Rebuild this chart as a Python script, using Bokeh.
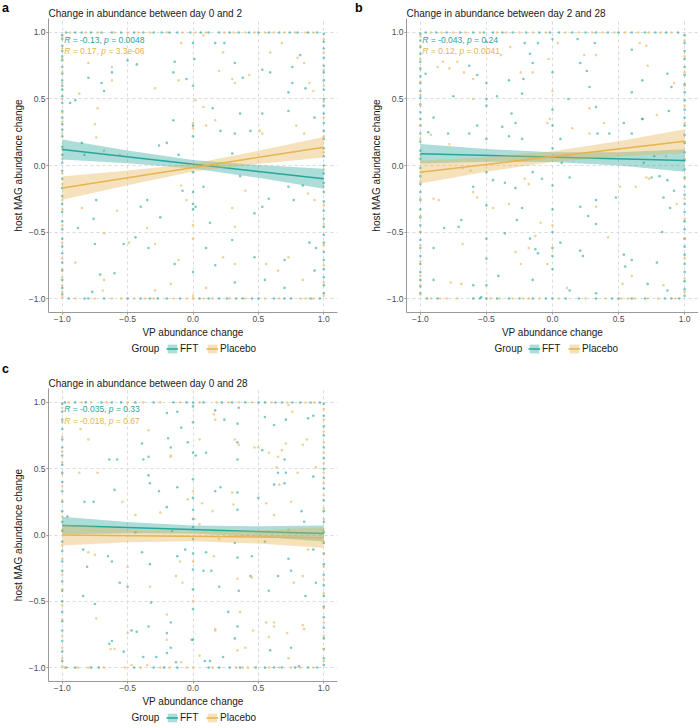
from bokeh.plotting import figure
from bokeh.models import (Range1d, FixedTicker, Label, Legend, LegendItem, CustomJSTickFormatter, Div)
from bokeh.layouts import column, row
from bokeh.embed import file_html
from bokeh.resources import INLINE

FONT = "Liberation Sans"
FFT_COL = "#26A69A"
PLC_COL = "#E6B450"
GROUPS = ["FFT", "Placebo"]
TICKS = [-1.0, -0.5, 0.0, 0.5, 1.0]
TICK_LABELS = ["\u22121.0", "\u22120.5", "0.0", "0.5", "1.0"]
FIT_X = [-1.0, 1.0]
BAND_X = [-1.0, -0.5, 0.0, 0.5, 1.0]

# ---------------- Panel a: day 0 -> 2 ----------------
a_title = "Change in abundance between day 0 and 2"
a_stats = [("-0.13", "0.0048"), ("0.17", "3.3e-06")]
a_fft_fit = [0.12, -0.10]
a_fft_lo = [0.045, 0.017, -0.022, -0.093, -0.175]
a_fft_hi = [0.195, 0.113, 0.042, 0.003, -0.025]
a_plc_fit = [-0.17, 0.138]
a_plc_lo = [-0.257, -0.148, -0.046, 0.011, 0.061]
a_plc_hi = [-0.083, -0.038, 0.014, 0.111, 0.215]
a_fft_pts = [(-0.50, 0.79), (-0.43, 0.76), (-0.80, 0.66), (-0.70, 0.62), (-0.68, 0.56), (-0.62, 0.70),
             (-0.14, 0.78), (-0.15, 0.70), (-0.05, 0.65), (0.01, 0.80), (0.17, 0.92), (0.24, 0.92),
             (0.32, 0.77), (0.38, 0.66), (0.53, 0.72), (0.59, 0.70), (0.76, 0.74), (0.82, 0.83),
             (0.76, 0.62), (0.86, 0.58), (0.73, 0.55), (0.93, 0.36), (-0.94, 0.47), (-0.90, 0.49),
             (0.15, 0.43), (0.53, 0.39), (-0.85, 0.17), (-0.83, 0.08), (-0.76, -0.40), (-0.75, -0.59),
             (-0.88, -0.47), (-0.71, -0.82), (-0.60, -0.81), (-0.40, -0.31), (-0.35, -0.26), (-0.34, -0.62),
             (-0.26, 0.15), (-0.20, 0.17), (-0.15, 0.34), (-0.11, 0.08), (-0.08, -0.19), (0.02, -0.31),
             (0.08, -0.16), (0.21, 0.26), (0.30, 0.09), (0.36, 0.39), (0.32, 0.24), (0.44, 0.26),
             (0.36, -0.08), (0.47, -0.36), (0.53, -0.31), (0.58, -0.25), (0.73, 0.41), (0.73, -0.16),
             (0.84, -0.15), (0.77, -0.26), (0.89, -0.58), (0.94, -0.62), (0.93, -0.79), (0.70, -0.71),
             (0.70, -0.92), (0.55, -0.86), (0.32, -0.88), (0.10, -0.62), (0.17, -0.75), (-0.14, -0.74),
             (-0.25, -0.39), (-0.53, -0.59), (-0.44, -0.54), (-0.77, -0.95), (0.13, -0.43), (0.30, -0.56),
             (0.47, -0.69), (-0.74, -0.26)]
a_plc_pts = [(-0.80, 0.77), (-0.62, 0.74), (-0.62, 0.64), (-0.73, 0.43), (-0.87, 0.54), (-0.29, 0.58),
             (-0.11, 0.64), (-0.09, 0.92), (0.08, 0.98), (0.23, 0.85), (0.30, 0.65), (0.32, 0.62),
             (0.43, 0.68), (0.59, 0.85), (0.68, 0.92), (0.80, 0.81), (0.85, 0.77), (0.92, 0.56),
             (0.89, 0.62), (0.02, 0.49), (0.20, 0.71), (-0.75, 0.31), (-0.74, 0.21), (-0.68, 0.11),
             (-0.56, 0.08), (-0.85, -0.32), (-0.58, -0.34), (-0.68, -0.51), (-0.49, -0.58), (-0.35, -0.47),
             (-0.29, -0.59), (-0.09, -0.15), (-0.05, -0.26), (0.10, 0.30), (0.17, 0.34), (0.30, -0.32),
             (0.32, -0.46), (0.40, -0.19), (0.51, 0.26), (0.53, 0.24), (0.79, 0.30), (0.85, 0.24),
             (0.88, -0.21), (0.93, -0.26), (0.73, -0.69), (0.65, -0.79), (0.56, -0.74), (0.84, -0.86),
             (0.32, -0.74), (0.23, -0.69), (0.10, -0.92), (-0.17, -0.89), (-0.11, -0.71), (-0.29, -0.94),
             (-0.68, -0.86), (-0.69, -0.94), (-0.90, -0.73), (0.08, 0.44)]
a_fft_left_y = [0.98, 0.95, 0.9, 0.86, 0.82, 0.79, 0.74, 0.69, 0.64, 0.6, 0.57, 0.52, 0.47, 0.41, 0.36, 0.31,
                0.27, 0.22, 0.14, 0.08, 0.02, -0.04, -0.1, -0.17, -0.23, -0.29, -0.35, -0.42, -0.48, -0.55,
                -0.61, -0.66, -0.73, -0.79, -0.86, -0.92, -0.97]
a_plc_left_y = [0.96, 0.88, 0.8, 0.7, 0.62, 0.5, 0.4, 0.33, 0.24, 0.12, 0.05, -0.06, -0.14, -0.26, -0.33,
                -0.45, -0.58, -0.7, -0.78, -0.84, -0.9, -0.95, -0.99]
a_fft_right_y = [0.99, 0.93, 0.88, 0.81, 0.75, 0.7, 0.64, 0.57, 0.5, 0.45, 0.39, 0.32, 0.26, 0.2, 0.13, 0.07,
                 0.0, -0.06, -0.13, -0.2, -0.27, -0.34, -0.4, -0.46, -0.52, -0.58, -0.65, -0.71, -0.78,
                 -0.84, -0.9, -0.96]
a_plc_right_y = [0.95, 0.85, 0.72, 0.6, 0.48, 0.36, 0.22, 0.1, -0.03, -0.16, -0.3, -0.44, -0.6, -0.75,
                 -0.88, -0.98]
a_fft_top_x = [-0.97, -0.9, -0.85, -0.78, -0.7, -0.62, -0.55, -0.45, -0.38, -0.3, -0.24, -0.18, -0.12,
               -0.02, 0.06, 0.12, 0.2, 0.28, 0.35, 0.43, 0.5, 0.58, 0.66, 0.74, 0.8, 0.88, 0.95]
a_plc_top_x = [-0.94, -0.82, -0.73, -0.6, -0.5, -0.42, -0.33, -0.2, -0.08, 0.02, 0.1, 0.24, 0.31, 0.4,
               0.47, 0.55, 0.62, 0.7, 0.78, 0.86, 0.92]
a_fft_bottom_x = [-0.95, -0.83, -0.8, -0.68, -0.5, -0.4, -0.33, -0.27, -0.2, -0.1, 0.05, 0.12, 0.2, 0.26,
                  0.33, 0.38, 0.45, 0.5, 0.62, 0.7, 0.75, 0.9, 0.97]
a_plc_bottom_x = [-0.9, -0.75, -0.62, -0.55, -0.45, -0.37, -0.3, -0.15, -0.05, 0.0, 0.08, 0.15, 0.28, 0.4,
                  0.55, 0.66, 0.82, 0.86, 0.92]
a_fft_zero_y = [0.92, 0.6, 0.3, 0.22, -0.05, -0.2, -0.29, -0.33, -0.8]
a_plc_zero_y = [0.32, 0.28, -0.45, -0.55, -0.98]

# ---------------- Panel b: day 2 -> 28 ----------------
b_title = "Change in abundance between day 2 and 28"
b_stats = [("-0.043", "0.24"), ("0.12", "0.0041")]
b_fft_fit = [0.088, 0.038]
b_fft_lo = [0.015, 0.028, 0.027, 0.0005, -0.047]
b_fft_hi = [0.161, 0.124, 0.099, 0.10, 0.123]
b_plc_fit = [-0.05, 0.183]
b_plc_lo = [-0.135, -0.047, 0.027, 0.067, 0.093]
b_plc_hi = [0.035, 0.063, 0.107, 0.183, 0.273]
b_fft_pts = [(-0.21, 0.92), (-0.17, 0.84), (-0.15, 0.77), (-0.11, 0.92), (-0.22, 0.65), (-0.33, 0.64),
             (-0.57, 0.68), (-0.63, 0.75), (-0.96, 0.69), (-0.75, 0.52), (-0.42, 0.52), (-0.23, 0.54),
             (0.19, 0.95), (0.32, 0.92), (0.21, 0.77), (0.26, 0.71), (0.28, 0.59), (0.33, 0.44),
             (0.60, 0.87), (0.68, 0.64), (0.60, 0.55), (0.87, 0.69), (0.90, 0.59), (0.12, 0.50),
             (0.88, 0.41), (0.68, 0.35), (-0.90, 0.36), (-0.94, 0.25), (-0.79, 0.24), (-0.63, 0.24),
             (-0.57, 0.30), (-0.38, 0.29), (-0.33, 0.22), (-0.28, 0.32), (-0.31, 0.39), (-0.23, 0.20),
             (-0.36, -0.13), (-0.28, -0.17), (-0.23, -0.32), (-0.15, -0.05), (-0.08, -0.10), (-0.17, -0.55),
             (-0.13, -0.63), (-0.11, -0.66), (-0.15, -0.86), (-0.27, -0.41), (-0.36, -0.51), (-0.45, -0.11),
             (-0.60, -0.16), (-0.69, -0.41), (-0.71, -0.46), (-0.82, -0.47), (-0.90, -0.62), (-0.90, -0.86),
             (-0.60, -0.90), (-0.41, -0.83), (-0.54, -0.99), (0.06, 0.20), (0.07, 0.02), (0.13, -0.09),
             (0.21, -0.31), (0.27, -0.38), (0.33, -0.26), (0.33, -0.44), (0.34, 0.24), (0.43, 0.24),
             (0.48, -0.24), (0.54, 0.32), (0.60, 0.24), (0.68, 0.35), (0.77, 0.07), (0.81, -0.08),
             (0.87, -0.11), (0.84, -0.24), (0.89, -0.32), (0.92, -0.19), (0.83, -0.50), (0.54, -0.67),
             (0.55, -0.76), (0.60, -0.71), (0.72, -0.89), (0.79, -0.73), (0.87, -0.94), (0.33, -0.96),
             (0.13, -0.94), (0.21, -0.64), (0.06, -0.58), (0.23, -0.68), (0.69, 0.02), (0.75, -0.09)]
b_plc_pts = [(-0.87, 0.74), (-0.83, 0.78), (-0.72, 0.78), (-0.78, 0.73), (-0.67, 0.70), (-0.60, 0.65),
             (-0.60, 0.50), (-0.39, 0.83), (-0.32, 0.89), (-0.24, 0.70), (-0.15, 0.70), (-0.03, 0.80),
             (0.04, 0.92), (0.24, 0.83), (0.33, 0.83), (0.66, 0.92), (0.71, 0.90), (0.72, 0.75),
             (0.28, 0.43), (0.92, 0.62), (-0.92, 0.23), (-0.78, 0.16), (-0.68, -0.02), (-0.62, -0.04),
             (-0.60, -0.20), (-0.57, -0.24), (-0.90, -0.25), (-0.86, -0.26), (-0.68, -0.59), (-0.69, -0.89),
             (-0.77, -0.88), (-0.45, -0.32), (-0.33, -0.29), (-0.28, -0.65), (-0.18, -0.62), (-0.13, -0.53),
             (-0.09, -0.43), (-0.21, -0.10), (-0.18, -0.14), (-0.04, 0.32), (-0.02, 0.35), (-0.04, -0.74),
             (0.15, 0.28), (0.28, 0.24), (0.39, 0.32), (0.33, -0.31), (0.42, -0.54), (0.51, -0.16),
             (0.63, -0.16), (0.71, -0.09), (0.73, -0.10), (0.79, 0.38), (0.86, 0.07), (0.94, -0.29),
             (0.53, -0.89), (0.60, -0.83), (0.84, -0.90), (0.11, -0.92), (-0.24, -0.74)]
b_fft_left_y = [0.99, 0.94, 0.89, 0.84, 0.78, 0.73, 0.67, 0.62, 0.56, 0.51, 0.46, 0.4, 0.35, 0.3, 0.24, 0.18,
                0.11, 0.05, -0.02, -0.08, -0.14, -0.2, -0.26, -0.33, -0.39, -0.45, -0.5, -0.56, -0.62,
                -0.68, -0.74, -0.8, -0.86, -0.91, -0.96]
b_plc_left_y = [0.97, 0.9, 0.8, 0.72, 0.63, 0.53, 0.45, 0.3, 0.2, 0.08, -0.05, -0.12, -0.25, -0.38, -0.5,
                -0.6, -0.72, -0.83, -0.9, -0.97]
b_fft_right_y = [0.98, 0.92, 0.86, 0.8, 0.74, 0.68, 0.61, 0.55, 0.49, 0.42, 0.36, 0.3, 0.23, 0.17, 0.1, 0.04,
                 -0.03, -0.09, -0.16, -0.22, -0.29, -0.35, -0.42, -0.48, -0.55, -0.61, -0.67, -0.74, -0.8,
                 -0.87, -0.93, -0.98]
b_plc_right_y = [0.94, 0.82, 0.7, 0.6, 0.45, 0.32, 0.18, 0.05, -0.1, -0.25, -0.4, -0.55, -0.7, -0.85, -0.95]
b_fft_top_x = [-0.96, -0.88, -0.8, -0.7, -0.6, -0.52, -0.45, -0.38, -0.3, -0.2, -0.1, -0.02, 0.05, 0.15,
               0.25, 0.33, 0.42, 0.5, 0.6, 0.7, 0.78, 0.86, 0.95]
b_plc_top_x = [-0.92, -0.84, -0.75, -0.66, -0.55, -0.42, -0.35, -0.25, -0.15, -0.05, 0.1, 0.2, 0.3, 0.38,
               0.47, 0.55, 0.65, 0.73, 0.82, 0.9]
b_fft_bottom_x = [-0.95, -0.87, -0.6, -0.55, -0.5, -0.42, -0.33, -0.25, -0.15, -0.05, 0.0, 0.1, 0.2, 0.33,
                  0.45, 0.5, 0.6, 0.7, 0.85, 0.9, 0.96]
b_plc_bottom_x = [-0.92, -0.85, -0.8, -0.72, -0.47, -0.4, -0.3, -0.22, -0.18, -0.1, 0.05, 0.25, 0.4, 0.52,
                  0.57, 0.62, 0.72, 0.8, 0.93]
b_fft_zero_y = [0.95, 0.7, 0.42, 0.3, 0.13, -0.15, -0.33, -0.5, -0.62, -0.68, -0.78]
b_plc_zero_y = [0.56, -0.45, -0.62]
b_fft_half_y = [0.93, 0.62, 0.5, 0.45, 0.2, -0.05, -0.3, -0.55, -0.7, -0.9]

# ---------------- Panel c: day 0 -> 28 ----------------
c_title = "Change in abundance between day 0 and 28"
c_stats = [("-0.035", "0.33"), ("-0.018", "0.67")]
c_fft_fit = [0.071, 0.011]
c_fft_lo = [0.005, 0.014, 0.011, -0.014, -0.049]
c_fft_hi = [0.137, 0.098, 0.071, 0.066, 0.071]
c_plc_fit = [0.0, -0.02]
c_plc_lo = [-0.08, -0.055, -0.048, -0.065, -0.098]
c_plc_hi = [0.08, 0.045, 0.028, 0.035, 0.058]
c_fft_pts = [(-0.20, 0.92), (-0.12, 0.93), (-0.09, 0.81), (-0.04, 0.70), (0.17, 0.94), (0.24, 0.87),
             (0.35, 0.96), (0.34, 0.84), (0.34, 0.70), (-0.19, 0.73), (-0.17, 0.66), (-0.39, 0.69),
             (-0.38, 0.57), (-0.34, 0.59), (-0.64, 0.57), (-0.58, 0.57), (0.02, 0.60), (0.10, 0.62),
             (0.55, 0.89), (0.62, 0.83), (0.71, 0.87), (0.88, 0.88), (0.92, 0.90), (0.53, 0.64),
             (0.34, 0.57), (0.70, 0.57), (-0.83, 0.25), (-0.76, 0.25), (-0.96, 0.14), (-0.84, -0.11),
             (-0.81, -0.24), (-0.84, -0.46), (-0.75, -0.52), (-0.65, -0.16), (-0.62, -0.20), (-0.56, -0.36),
             (-0.60, 0.34), (-0.50, -0.39), (-0.44, 0.02), (-0.39, -0.13), (-0.34, 0.45), (-0.33, 0.39),
             (-0.33, -0.22), (-0.32, -0.51), (-0.26, 0.33), (-0.20, 0.21), (-0.12, 0.36), (-0.12, -0.16),
             (-0.06, -0.11), (-0.16, 0.03), (0.10, -0.13), (0.08, -0.27), (0.14, -0.27), (0.17, 0.33),
             (0.21, 0.36), (0.20, -0.39), (0.27, -0.58), (0.32, -0.06), (0.34, 0.32), (0.34, 0.19),
             (0.34, -0.17), (0.35, -0.42), (0.44, -0.31), (0.45, -0.16), (0.50, 0.28), (0.55, -0.05),
             (0.58, -0.42), (0.62, 0.38), (0.65, 0.47), (0.70, 0.39), (0.73, -0.18), (0.75, -0.27),
             (0.65, -0.31), (0.71, 0.47), (0.83, 0.18), (0.85, 0.10), (0.92, 0.44), (0.86, -0.46),
             (0.92, -0.11), (0.94, -0.36), (0.32, -0.78), (-0.43, -0.73), (-0.64, -0.82), (-0.62, -0.80),
             (-0.53, -0.88), (-0.47, -0.72), (-0.38, -0.92), (-0.34, -0.69), (-0.28, -0.92), (-0.20, -0.89),
             (-0.20, -0.74), (-0.17, -0.66), (-0.17, -0.85), (-0.13, -0.96), (-0.01, -0.79), (0.09, -0.95),
             (0.13, -0.95), (0.23, -0.92), (0.34, -0.69), (0.59, -0.87), (0.75, -0.85), (0.81, -0.99)]
c_plc_pts = [(-0.86, 0.80), (-0.80, 0.72), (-0.34, 0.79), (-0.17, 0.59), (0.05, 0.72), (0.16, 0.91),
             (0.17, 0.87), (0.32, 0.72), (0.35, 0.68), (0.50, 0.66), (0.58, 0.62), (0.65, 0.59),
             (0.68, 0.64), (0.71, 0.69), (0.73, 0.98), (0.76, 0.93), (0.84, 0.68), (0.87, 0.72),
             (0.94, 0.51), (0.64, 0.51), (-0.87, 0.47), (-0.73, 0.47), (-0.80, -0.13), (-0.75, -0.15),
             (-0.74, -0.63), (-0.54, 0.25), (-0.50, -0.24), (-0.44, 0.15), (-0.33, -0.39), (-0.25, 0.17),
             (-0.17, 0.60), (-0.20, -0.60), (-0.10, -0.20), (-0.13, -0.31), (-0.08, -0.36), (-0.04, 0.27),
             (0.01, 0.12), (0.07, 0.24), (0.15, 0.18), (0.16, -0.16), (0.20, -0.03), (0.30, 0.32),
             (0.31, 0.23), (0.34, -0.33), (0.45, -0.32), (0.47, 0.66), (0.56, 0.24), (0.62, 0.15),
             (0.66, 0.38), (0.75, 0.25), (0.80, 0.47), (0.84, -0.31), (0.88, -0.11), (0.77, -0.36),
             (0.73, 0.04), (0.62, -0.66), (0.36, -0.58), (0.17, -0.71), (0.05, 0.08), (-0.63, -0.86),
             (-0.60, -0.86), (-0.50, -0.74), (-0.47, -0.98), (-0.35, -0.98), (-0.20, -0.79), (-0.09, -0.96),
             (0.05, -0.91), (0.17, -0.72), (0.34, -0.87), (0.40, -0.85), (0.46, -0.72), (0.56, -0.66),
             (0.58, -0.77), (0.62, -0.69), (0.72, -0.74), (0.73, -0.93), (0.84, -0.68), (0.85, -0.71)]
c_fft_left_y = [0.99, 0.93, 0.87, 0.8, 0.72, 0.66, 0.6, 0.53, 0.47, 0.4, 0.33, 0.25, 0.18, 0.1, 0.03, -0.05,
                -0.12, -0.2, -0.27, -0.35, -0.42, -0.5, -0.58, -0.65, -0.72, -0.8, -0.88, -0.95]
c_plc_left_y = [0.96, 0.85, 0.74, 0.63, 0.55, 0.46, 0.37, 0.26, 0.14, 0.04, -0.08, -0.18, -0.3, -0.41,
                -0.53, -0.64, -0.76, -0.85, -0.93, -0.99]
c_fft_right_y = [0.99, 0.9, 0.82, 0.75, 0.66, 0.58, 0.5, 0.43, 0.35, 0.26, 0.18, 0.1, 0.02, -0.06, -0.14,
                 -0.22, -0.3, -0.38, -0.46, -0.54, -0.62, -0.7, -0.78, -0.86, -0.93, -0.98]
c_plc_right_y = [0.95, 0.87, 0.78, 0.7, 0.62, 0.54, 0.47, 0.39, 0.3, 0.2, 0.12, 0.04, -0.05, -0.14, -0.24,
                 -0.34, -0.44, -0.55, -0.66, -0.76, -0.86, -0.95]
c_fft_top_x = [-0.98, -0.9, -0.82, -0.7, -0.62, -0.55, -0.44, -0.3, -0.15, -0.05, 0.0, 0.08, 0.22, 0.3, 0.4,
               0.5, 0.55, 0.63, 0.68, 0.76, 0.82, 0.9, 0.97]
c_plc_top_x = [-0.95, -0.85, -0.78, -0.66, -0.5, -0.38, -0.25, -0.1, 0.05, 0.18, 0.27, 0.35, 0.45, 0.6,
               0.72, 0.86, 0.93]
c_fft_bottom_x = [-0.97, -0.9, -0.78, -0.72, -0.45, -0.3, -0.22, -0.12, 0.12, 0.2, 0.28, 0.36, 0.48, 0.55,
                  0.62, 0.68, 0.78, 0.88, 0.95]
c_plc_bottom_x = [-0.98, -0.88, -0.8, -0.68, -0.52, -0.4, -0.25, -0.18, -0.05, 0.0, 0.15, 0.33, 0.38, 0.42,
                  0.58, 0.66, 0.75, 0.82, 0.92]
c_fft_zero_y = [0.97, 0.85, 0.62, 0.42, 0.28, 0.19, 0.12, 0.06, -0.03, -0.14, -0.26, -0.41, -0.56, -0.79]
c_plc_zero_y = [0.33, -0.2, -0.5]

# --------------------------------------------------------------
CHAR_W = {"R": 0.722, "p": 0.556, " ": 0.278, "=": 0.584, "-": 0.333, ".": 0.278, ",": 0.278, "e": 0.556}
ANN_SIZE = 8.5
COLS = {"FFT": FFT_COL, "Placebo": PLC_COL}


def text_w(s, size):
    return sum(CHAR_W.get(ch, 0.556) for ch in s) * size


def collect(pts, left_y, right_y, top_x, bottom_x, cols):
    xs = [p[0] for p in pts]
    ys = [p[1] for p in pts]
    xs += [-1.0] * len(left_y); ys += list(left_y)
    xs += [1.0] * len(right_y); ys += list(right_y)
    xs += list(top_x); ys += [1.0] * len(top_x)
    xs += list(bottom_x); ys += [-1.0] * len(bottom_x)
    for cx, cy in cols:
        xs += [cx] * len(cy); ys += list(cy)
    return xs, ys


def letter_div(letter, width, pad_left, top):
    return Div(text='<div style="font-family:\'Liberation Sans\';font-weight:bold;font-size:12.5px;'
                    'line-height:12px;padding-left:%dpx;color:#000">%s</div>' % (pad_left, letter),
               width=width, height=14, margin=(top, 0, 0, 0))


def make_panel(title, stats, fft, plc, width, height, mbl, mbr, mbt, mbb):
    p = figure(width=width, height=height, x_range=Range1d(-1.105, 1.105), y_range=Range1d(-1.105, 1.105),
               output_backend="svg", toolbar_location=None,
               min_border_left=mbl, min_border_right=mbr, min_border_top=mbt, min_border_bottom=mbb,
               x_axis_label="VP abundance change", y_axis_label="host MAG abundance change")
    p.outline_line_color = None
    p.background_fill_color = "white"
    p.border_fill_color = "white"
    p.title.text = title
    p.title.align = "left"
    p.title.vertical_align = "bottom"
    p.title.text_font = FONT
    p.title.text_font_size = "10px"
    p.title.text_font_style = "normal"
    p.title.text_color = "#1a1a1a"
    p.title.standoff = 0
    p.title.offset = 0
    fmt = CustomJSTickFormatter(args=dict(tvals=TICKS, tlabels=TICK_LABELS), code="""
        let best = 0, d = 1e9;
        for (let i = 0; i < tvals.length; i++) {
            const dd = Math.abs(tvals[i] - tick);
            if (dd < d) { d = dd; best = i; }
        }
        return tlabels[best];
    """)
    for grid in (p.xgrid, p.ygrid):
        grid.ticker = FixedTicker(ticks=TICKS)
        grid.grid_line_color = "#d6d6d6"
        grid.grid_line_dash = "3 3"
        grid.grid_line_width = 0.9
    for ax in (p.xaxis, p.yaxis):
        ax.ticker = FixedTicker(ticks=TICKS)
        ax.formatter = fmt
        ax.minor_tick_line_color = None
        ax.axis_line_color = "#9a9a9a"
        ax.axis_line_width = 1
        ax.major_tick_line_color = "#9a9a9a"
        ax.major_tick_out = 2
        ax.major_tick_in = 0
        ax.major_label_standoff = 1
        ax.major_label_text_font = FONT
        ax.major_label_text_font_size = "8.5px"
        ax.major_label_text_color = "#4d4d4d"
        ax.axis_label_text_font = FONT
        ax.axis_label_text_font_size = "10px"
        ax.axis_label_text_font_style = "normal"
        ax.axis_label_text_color = "#1a1a1a"
        ax.axis_label_standoff = 2

    groups = {"FFT": fft, "Placebo": plc}
    for name in GROUPS:
        xs, ys, fit, lo, hi = groups[name]
        p.scatter(xs, ys, size=2.6, fill_color=COLS[name], fill_alpha=0.6, line_color=None)
    for name in GROUPS:
        xs, ys, fit, lo, hi = groups[name]
        p.varea(x=BAND_X, y1=lo, y2=hi, fill_color=COLS[name], fill_alpha=0.38)
        p.line(x=FIT_X, y=fit, line_color=COLS[name], line_width=1.5)

    # correlation annotations (R and p in italics)
    for i, name in enumerate(GROUPS):
        r, pv = stats[i]
        segs = [("R", "italic"), ("= %s," % r, "normal"), ("p", "italic"), ("= %s" % pv, "normal")]
        off = 0.0
        yv = 0.947 if i == 0 else 0.862
        sp = text_w(" ", ANN_SIZE)
        for s, style in segs:
            p.add_layout(Label(x=-0.985, y=yv, x_offset=off, text=s, text_font=FONT,
                               text_font_size="%spx" % ANN_SIZE, text_font_style=style, text_color=COLS[name],
                               text_baseline="middle"))
            off += text_w(s, ANN_SIZE) + sp
    return p


def make_legend(width, height, group_x, items_x, fft, plc):
    # the fitted bands/lines are re-drawn out of view only to provide the legend keys
    lp = figure(width=width, height=height, x_range=Range1d(5, 6), y_range=Range1d(5, 6),
                output_backend="svg", toolbar_location=None, x_axis_type=None, y_axis_type=None,
                min_border=0)
    lp.outline_line_color = None
    lp.xgrid.visible = False
    lp.ygrid.visible = False
    groups = {"FFT": fft, "Placebo": plc}
    items = []
    for name in GROUPS:
        xs, ys, fit, lo, hi = groups[name]
        band = lp.varea(x=BAND_X, y1=lo, y2=hi, fill_color=COLS[name], fill_alpha=0.38)
        line = lp.line(x=FIT_X, y=fit, line_color=COLS[name], line_width=1.5)
        items.append(LegendItem(label=name, renderers=[band, line]))
    lp.add_layout(Label(x=group_x, y=height / 2.0, x_units="screen", y_units="screen", text="Group",
                        text_font=FONT, text_font_size="10px", text_color="#1a1a1a", text_baseline="middle"))
    legend = Legend(items=items, location=(items_x, (height - 12) / 2.0), orientation="horizontal",
                    background_fill_alpha=0, border_line_color=None, padding=0, margin=0, spacing=6,
                    glyph_width=12, glyph_height=11, label_standoff=2, label_height=11,
                    label_text_font=FONT, label_text_font_size="10px", label_text_color="#1a1a1a",
                    label_text_baseline="middle")
    lp.add_layout(legend)
    return lp


def group(pts, left, right, top, bottom, cols, fit, lo, hi):
    xs, ys = collect(pts, left, right, top, bottom, cols)
    return (xs, ys, fit, lo, hi)


a_fft = group(a_fft_pts, a_fft_left_y, a_fft_right_y, a_fft_top_x, a_fft_bottom_x,
              [(0.0, a_fft_zero_y)], a_fft_fit, a_fft_lo, a_fft_hi)
a_plc = group(a_plc_pts, a_plc_left_y, a_plc_right_y, a_plc_top_x, a_plc_bottom_x,
              [(0.0, a_plc_zero_y)], a_plc_fit, a_plc_lo, a_plc_hi)
b_fft = group(b_fft_pts, b_fft_left_y, b_fft_right_y, b_fft_top_x, b_fft_bottom_x,
              [(0.0, b_fft_zero_y), (-0.5, b_fft_half_y)], b_fft_fit, b_fft_lo, b_fft_hi)
b_plc = group(b_plc_pts, b_plc_left_y, b_plc_right_y, b_plc_top_x, b_plc_bottom_x,
              [(0.0, b_plc_zero_y)], b_plc_fit, b_plc_lo, b_plc_hi)
c_fft = group(c_fft_pts, c_fft_left_y, c_fft_right_y, c_fft_top_x, c_fft_bottom_x,
              [(0.0, c_fft_zero_y)], c_fft_fit, c_fft_lo, c_fft_hi)
c_plc = group(c_plc_pts, c_plc_left_y, c_plc_right_y, c_plc_top_x, c_plc_bottom_x,
              [(0.0, c_plc_zero_y)], c_plc_fit, c_plc_lo, c_plc_hi)

pa = make_panel(a_title, a_stats, a_fft, a_plc, 341, 340, 34, 13, 18, 28)
pb = make_panel(b_title, b_stats, b_fft, b_plc, 334, 340, 42, 0, 18, 28)
pc = make_panel(c_title, c_stats, c_fft, c_plc, 341, 353, 34, 13, 32, 28)

leg_a = make_legend(350, 16, 131, 166, a_fft, a_plc)
leg_b = make_legend(348, 16, 144, 178, b_fft, b_plc)
leg_c = make_legend(350, 16, 131, 166, c_fft, c_plc)

layout = column(row(letter_div("a", 9, 2, 0), pa, letter_div("b", 14, 5, 0), pb),
                row(leg_a, leg_b),
                row(letter_div("c", 9, 2, 5), pc),
                leg_c)
open("out.html", "w").write(file_html(layout, INLINE))
